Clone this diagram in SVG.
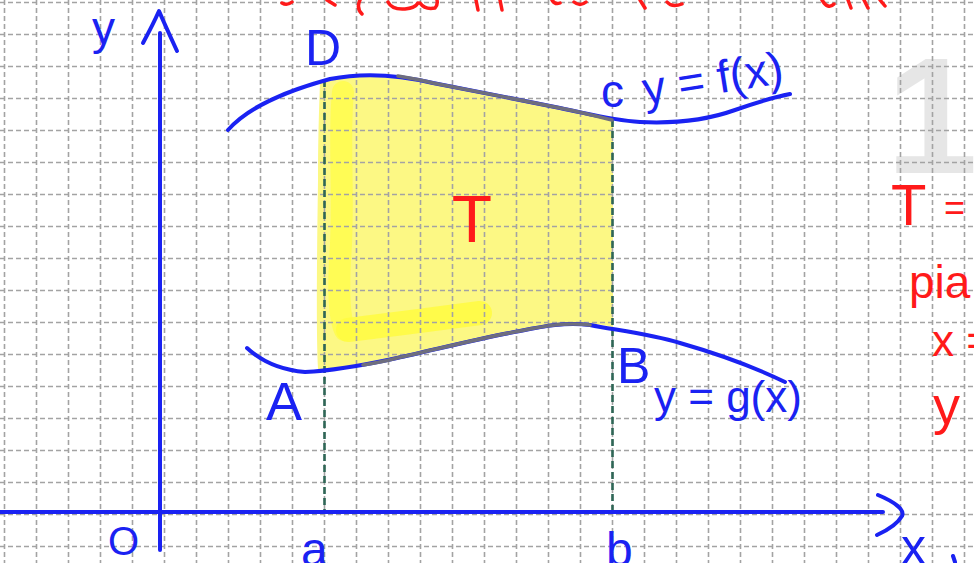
<svg xmlns="http://www.w3.org/2000/svg" width="974" height="563" viewBox="0 0 974 563">
<style>
.grid{fill:none;stroke:#a3a3a3;stroke-width:1.6;stroke-dasharray:5 3}
.pen{fill:none;stroke:#1a22f2;stroke-width:4;stroke-linecap:round;stroke-linejoin:round}
.mix{fill:none;stroke:#6e6e7e;stroke-width:3.5;stroke-linecap:round}
.guide{fill:none;stroke:#2f6656;stroke-width:2.6;stroke-dasharray:7 4}
.red{fill:none;stroke:#ff1a1a;stroke-width:3.5;stroke-linecap:round}
.lb{font-family:"Liberation Sans",Arial,sans-serif;fill:#1a22f2}
.rt{font-family:"Liberation Sans",Arial,sans-serif;fill:#ff1a1a}
</style>
<rect width="974" height="563" fill="#ffffff"/>
<text x="886" y="173" font-family="Liberation Sans, Arial, sans-serif" font-weight="bold" font-size="165" fill="#e6e6e6">1</text>
<g id="region">
<path d="M320,82 C330,78 345,76 360,75 C395,74 415,78 433,83 C470,90 520,100 560,108 C585,113 600,117 613,121 L613,327 C600,324 585,322 567,323 C545,325 530,329 513,333 C480,339 450,346 420,352 C395,358 370,364 345,368 C335,369 325,370 318,369 C316,330 317,250 318,180 C318,140 319,110 320,82 Z" fill="#fcf884"/>
<path d="M343,92 C338,140 345,200 340,260 C338,300 340,320 345,330" fill="none" stroke="#fffc4a" stroke-width="22" stroke-linecap="round" opacity="0.8"/>
<path d="M348,330 C390,325 440,318 480,313" fill="none" stroke="#fffc40" stroke-width="24" stroke-linecap="round" opacity="0.85"/>
</g>
<g id="grid">
<path class="grid" d="M4.5,0V563M36.5,0V563M68.5,0V563M100.5,0V563M132.5,0V563M164.5,0V563M196.5,0V563M228.5,0V563M260.5,0V563M292.5,0V563M324.5,0V563M356.5,0V563M388.5,0V563M420.5,0V563M452.5,0V563M484.5,0V563M516.5,0V563M548.5,0V563M580.5,0V563M612.5,0V563M644.5,0V563M676.5,0V563M708.5,0V563M740.5,0V563M772.5,0V563M804.5,0V563M836.5,0V563M868.5,0V563M900.5,0V563M932.5,0V563M964.5,0V563"/>
<path class="grid" d="M0,2.5H974M0,34.5H974M0,66.5H974M0,98.5H974M0,130.5H974M0,162.5H974M0,194.5H974M0,226.5H974M0,258.5H974M0,290.5H974M0,322.5H974M0,354.5H974M0,386.5H974M0,418.5H974M0,450.5H974M0,482.5H974M0,514.5H974M0,546.5H974"/>
</g>
<g id="connectors">
<path class="guide" d="M324.5,80V511"/>
<path class="guide" d="M612.5,120V511"/>
<path class="pen" d="M0,512H883"/>
<path class="pen" d="M878,495 C895,502 905,510 902,516 C898,523 888,530 877,535"/>
<path class="pen" d="M160,33V550"/>
<path class="pen" d="M143,43 C150,30 155,20 159,11 C165,25 171,38 177,51"/>
</g>
<g id="curve-f">
<path class="pen" d="M228,130 C250,105 290,90 330,79 C360,73 395,74 433,83 C470,90 520,100 560,108 C590,114 610,120 640,122 C680,124 710,119 735,110 C755,103 775,97 790,94"/>
<path class="mix" d="M398,76 C410,78 422,80 433,83 C470,90 520,100 560,108 C585,113 600,117 612,120"/>
</g>
<g id="curve-g">
<path class="pen" d="M247,348 C260,360 280,370 305,372 C330,371 360,366 397,358 C430,351 480,338 520,331 C545,326 565,322 590,325 C615,330 650,334 680,343 C715,353 750,365 785,382"/>
<path class="mix" d="M363,365 C375,363 386,361 397,358 C430,351 480,338 520,331 C545,326 565,322 590,325"/>
</g>
<g id="labels">
<text class="lb" x="92" y="44" font-size="46">y</text>
<text class="lb" x="305" y="65" font-size="50">D</text>
<text class="lb" x="601" y="107" font-size="46">c</text>
<text class="lb" x="645" y="105" font-size="46" transform="rotate(-9 645 105)">y = f(x)</text>
<text class="rt" x="472" y="242" font-size="66" text-anchor="middle">T</text>
<text class="lb" x="266" y="420" font-size="54">A</text>
<text class="lb" x="617" y="383" font-size="50">B</text>
<text class="lb" x="654" y="412" font-size="44">y = g(x)</text>
<text class="lb" x="108" y="555" font-size="40">O</text>
<text class="lb" x="301" y="566" font-size="48">a</text>
<text class="lb" x="606" y="566" font-size="48">b</text>
<text class="lb" x="901" y="564" font-size="50">x</text>
<path class="pen" d="M955,562 L953,556"/>
</g>
<g id="side-notes">
<text class="rt" x="891" y="225" font-size="58">T</text>
<text class="rt" x="944" y="220" font-size="36">=</text>
<text class="rt" x="909" y="298" font-size="46">pia</text>
<text class="rt" x="932" y="356" font-size="44">x =</text>
<text class="rt" x="933" y="424" font-size="54">y</text>
<path class="red" d="M282,3 Q287,6 292,2M327,0 L335,5M360,0 Q356,8 362,14M388,2 Q392,10 405,9 Q415,8 418,3M420,3 Q425,10 435,8 Q438,5 437,0M476,0 L478,10M500,0 L502,10M552,0 Q555,5 560,3M574,2 Q580,7 586,2M640,0 L645,8M667,2 Q672,8 682,4M822,0 Q828,10 834,4M848,0 L851,8M864,0 L868,8M880,0 L885,6"/>
</g>
</svg>
